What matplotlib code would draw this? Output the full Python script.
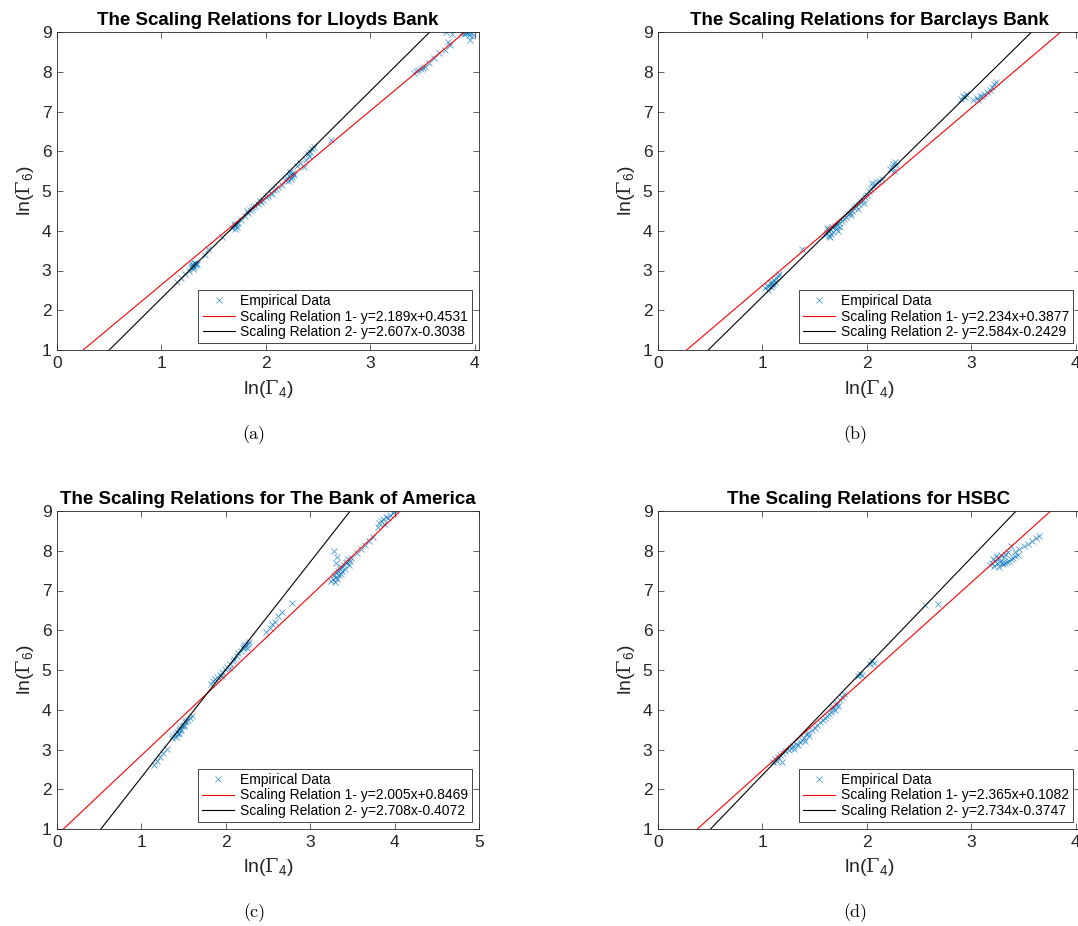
import matplotlib
matplotlib.use('Agg')
import matplotlib.pyplot as plt
import numpy as np

plt.rcParams['font.family'] = ['Liberation Sans', 'DejaVu Sans']
plt.rcParams['mathtext.fontset'] = 'custom'
plt.rcParams['mathtext.rm'] = 'DejaVu Serif'
plt.rcParams['mathtext.sf'] = 'Liberation Sans'

# empirical points (ln Gamma_4, ln Gamma_6)
lloydsX = [1.15, 1.19, 1.23, 1.26,
           1.28, 1.29, 1.30, 1.31, 1.32, 1.33, 1.30, 1.34, 1.31, 1.29,
           1.42, 1.45, 1.58,
           1.68, 1.70, 1.71, 1.72, 1.69, 1.73, 1.70,
           1.76, 1.80, 1.83, 1.85, 1.87, 1.90, 1.92, 1.95, 1.97, 2.00,
           2.02, 2.05, 2.08, 2.10, 2.12, 2.15, 1.82, 1.88, 1.94, 2.06,
           2.18, 2.20, 2.22, 2.24, 2.25, 2.26, 2.23, 2.21, 2.27, 2.24,
           2.30, 2.33, 2.36, 2.38, 2.40, 2.42, 2.44, 2.46, 2.41,
           2.62,
           3.42, 3.44, 3.46, 3.48, 3.50, 3.52, 3.56, 3.61, 3.66, 3.71, 3.76, 3.74,
           3.72, 3.78, 3.87, 3.89, 3.90, 3.91, 3.92, 3.93, 3.94, 3.95, 3.96, 3.95, 3.97]
lloydsY = [2.72, 2.80, 2.92, 2.98,
           3.08, 3.12, 3.15, 3.10, 3.18, 3.13, 3.05, 3.16, 3.20, 3.17,
           3.38, 3.55, 3.85,
           4.08, 4.12, 4.16, 4.10, 4.18, 4.20, 4.05,
           4.28, 4.38, 4.45, 4.52, 4.55, 4.62, 4.68, 4.72, 4.78, 4.85,
           4.88, 4.95, 5.02, 5.05, 5.10, 5.15, 4.50, 4.60, 4.76, 4.92,
           5.28, 5.32, 5.38, 5.42, 5.35, 5.45, 5.48, 5.25, 5.40, 5.30,
           5.62, 5.70, 5.60, 5.78, 5.92, 5.98, 6.05, 6.10, 5.88,
           6.29,
           7.98, 8.02, 8.05, 8.08, 8.10, 8.13, 8.22, 8.34, 8.47, 8.55, 8.68, 8.76,
           9.00, 8.95, 8.98, 9.00, 8.95, 9.02, 8.98, 9.00, 8.92, 9.03, 8.97, 8.80, 8.90]

barclaysX = [1.02, 1.04, 1.06, 1.07, 1.08, 1.09, 1.10, 1.11, 1.12, 1.13, 1.15, 1.16, 1.05, 1.09,
             1.38,
             1.60, 1.62, 1.63, 1.64, 1.65, 1.66, 1.67, 1.68, 1.69, 1.70, 1.71, 1.72, 1.73, 1.74, 1.65, 1.62,
             1.76, 1.78, 1.80, 1.82, 1.84, 1.86, 1.88, 1.90, 1.92, 1.94, 1.96, 1.98, 2.00, 1.85, 1.91, 1.97,
             2.02, 2.04, 2.06, 2.08, 2.10, 2.12, 2.14, 2.05,
             2.22, 2.24, 2.25, 2.27, 2.28, 2.26,
             2.90, 2.92, 2.94, 2.95,
             3.02, 3.05, 3.08, 3.10, 3.12, 3.15, 3.18, 3.20, 3.22, 3.24, 3.06]
barclaysY = [2.55, 2.60, 2.62, 2.68, 2.58, 2.70, 2.66, 2.75, 2.72, 2.80, 2.85, 2.90, 2.52, 2.63,
             3.55,
             3.90, 3.95, 4.02, 3.88, 4.05, 3.92, 4.10, 3.98, 4.12, 4.05, 4.15, 4.00, 4.20, 4.10, 3.85, 4.08,
             4.25, 4.30, 4.35, 4.42, 4.45, 4.50, 4.58, 4.62, 4.68, 4.72, 4.78, 4.85, 4.90, 4.40, 4.55, 4.70,
             5.00, 5.05, 5.12, 5.18, 5.22, 5.25, 5.30, 5.20,
             5.55, 5.60, 5.68, 5.72, 5.65, 5.50,
             7.32, 7.40, 7.36, 7.45,
             7.30, 7.35, 7.40, 7.38, 7.45, 7.50, 7.55, 7.62, 7.70, 7.75, 7.28]

boaX = [1.15, 1.18, 1.22, 1.26, 1.30,
        1.36, 1.38, 1.40, 1.42, 1.43, 1.44, 1.46, 1.47, 1.48, 1.50, 1.52, 1.53, 1.55, 1.57, 1.60, 1.45, 1.41, 1.51,
        1.83, 1.85, 1.87, 1.90, 1.93, 1.96, 1.99, 2.02, 2.05, 2.08, 2.10, 2.13, 2.15, 2.18, 2.20, 2.22,
        2.24, 2.26, 2.28, 2.25, 2.21, 1.95, 2.05,
        2.48, 2.52, 2.55, 2.58, 2.62, 2.66, 2.78,
        3.25, 3.27, 3.28, 3.29, 3.30, 3.31, 3.32, 3.33, 3.34, 3.35, 3.36, 3.37, 3.38, 3.40, 3.41, 3.42,
        3.44, 3.45, 3.46, 3.48, 3.30, 3.28, 3.32, 3.47,
        3.55, 3.60, 3.65, 3.70, 3.75,
        3.80, 3.82, 3.84, 3.86, 3.88, 3.90, 3.92, 3.95, 3.98, 4.00]
boaY = [2.60, 2.70, 2.82, 2.92, 3.02,
        3.30, 3.35, 3.40, 3.45, 3.38, 3.50, 3.55, 3.48, 3.60, 3.62, 3.68, 3.72, 3.75, 3.80, 3.85, 3.42, 3.32, 3.58,
        4.65, 4.72, 4.78, 4.82, 4.88, 4.95, 5.02, 5.08, 5.15, 5.22, 5.28, 5.35, 5.42, 5.48, 5.55, 5.58,
        5.62, 5.65, 5.70, 5.55, 5.62, 4.85, 5.05,
        5.95, 6.05, 6.15, 6.22, 6.35, 6.45, 6.68,
        7.25, 7.30, 7.40, 7.22, 7.35, 7.45, 7.28, 7.50, 7.38, 7.55, 7.42, 7.60, 7.48, 7.65, 7.55, 7.70,
        7.72, 7.78, 7.65, 7.82, 7.70, 8.00, 7.85, 7.75,
        7.95, 8.05, 8.15, 8.25, 8.35,
        8.60, 8.70, 8.75, 8.80, 8.68, 8.85, 8.82, 8.90, 8.95, 9.00]

hsbcX = [1.10, 1.12, 1.14, 1.15, 1.17, 1.19, 1.20, 1.22, 1.25,
         1.27, 1.29, 1.30, 1.32, 1.34, 1.36, 1.38, 1.40, 1.41, 1.42, 1.44, 1.45, 1.47, 1.50, 1.52,
         1.55, 1.58, 1.60, 1.62, 1.64, 1.66, 1.67, 1.68, 1.69, 1.70, 1.71, 1.72, 1.74, 1.76, 1.78,
         1.91, 1.93, 1.95,
         2.03, 2.05, 2.07,
         2.56, 2.68,
         3.18, 3.20, 3.21, 3.22, 3.23, 3.24, 3.25, 3.26, 3.27, 3.28, 3.29, 3.30, 3.32, 3.34, 3.36,
         3.38, 3.40, 3.42, 3.45, 3.32, 3.35, 3.38, 3.42, 3.46, 3.50, 3.54, 3.58, 3.62, 3.65, 3.31, 3.26]
hsbcY = [2.68, 2.75, 2.72, 2.80, 2.85, 2.68, 2.90, 2.95, 3.00,
         3.05, 3.10, 3.02, 3.15, 3.12, 3.20, 3.25, 3.30, 3.22, 3.38, 3.42, 3.35, 3.48, 3.55, 3.62,
         3.68, 3.75, 3.80, 3.85, 3.90, 3.95, 4.02, 4.08, 4.00, 4.12, 4.18, 4.10, 4.25, 4.32, 4.40,
         4.86, 4.90, 4.88,
         5.15, 5.22, 5.18,
         6.63, 6.66,
         7.65, 7.70, 7.80, 7.62, 7.75, 7.88, 7.68, 7.82, 7.72, 7.90, 7.70, 7.66, 7.68, 7.72, 7.75,
         7.78, 7.82, 7.86, 7.90, 7.92, 7.98, 8.13, 7.98, 8.05, 8.12, 8.18, 8.25, 8.32, 8.38, 7.85, 7.60]

# fitted scaling relations: slope, intercept
lloydsFits = [(2.189, 0.4531), (2.607, -0.3038)]
barclaysFits = [(2.234, 0.3877), (2.584, -0.2429)]
boaFits = [(2.005, 0.8469), (2.708, -0.4072)]
hsbcFits = [(2.365, 0.1082), (2.734, -0.3747)]

titles = ['Lloyds Bank', 'Barclays Bank', 'The Bank of America', 'HSBC']
captions = ['(a)', '(b)', '(c)', '(d)']
xMax = [4.04, 4.04, 5, 4.04]

MATLAB_BLUE = '#0072BD'
AX_GREY = '0.15'


def drawPanel(ax, xs, ys, fits, name, xmax):
    ax.plot(xs, ys, 'x', color=MATLAB_BLUE, markersize=5, markeredgewidth=0.6,
            alpha=0.7, label='Empirical Data')
    lineX = np.array([0, 5.5])
    for i, ((a, b), col) in enumerate(zip(fits, ['red', 'black'])):
        sign = '+' if b >= 0 else ''
        ax.plot(lineX, a * lineX + b, color=col, linewidth=0.8,
                label=f'Scaling Relation {i + 1}- y={a:.3f}x{sign}{b:.4f}')

    ax.set_xlim(0, xmax)
    ax.set_ylim(1, 9)
    ax.set_xticks(range(0, int(xmax) + 1))
    ax.set_yticks(range(1, 10))
    ax.tick_params(direction='in', top=True, right=True, length=4, width=0.5,
                   labelsize=12.5, colors=AX_GREY, labelcolor=AX_GREY, pad=4)
    for s in ax.spines.values():
        s.set_color(AX_GREY)
        s.set_linewidth(0.6)

    ax.set_title(f'The Scaling Relations for {name}', fontsize=13.5,
                 fontweight='bold', pad=5)
    ax.set_xlabel(r'ln($\Gamma_\mathsf{4}$)', fontsize=14, color=AX_GREY, labelpad=5)
    ax.set_ylabel(r'ln($\Gamma_\mathsf{6}$)', fontsize=14, color=AX_GREY, labelpad=4)

    leg = ax.legend(loc='lower right', fontsize=10, numpoints=1, fancybox=False,
                    framealpha=1, edgecolor=AX_GREY, borderpad=0.3,
                    labelspacing=0.1, handlelength=2.3, handletextpad=0.4,
                    borderaxespad=0.5)
    leg.get_frame().set_linewidth(0.6)


fig = plt.figure(figsize=(10.78, 9.26), dpi=100)

W, H = 1078, 926
axW, axH = 422, 318
positions = [(57, 350), (658, 350), (57, 829), (658, 829)]
captionPos = [(254, 435), (855, 435), (254, 913), (855, 913)]
data = [(lloydsX, lloydsY, lloydsFits), (barclaysX, barclaysY, barclaysFits),
        (boaX, boaY, boaFits), (hsbcX, hsbcY, hsbcFits)]

for k in range(4):
    left, bottom = positions[k]
    ax = fig.add_axes([left / W, 1 - bottom / H, axW / W, axH / H])
    xs, ys, fits = data[k]
    drawPanel(ax, xs, ys, fits, titles[k], xMax[k])
    cx, cy = captionPos[k]
    fig.text(cx / W, 1 - cy / H, captions[k], fontsize=13, family='cmr10',
             ha='center', va='center')

fig.savefig('out.png', dpi=100)
